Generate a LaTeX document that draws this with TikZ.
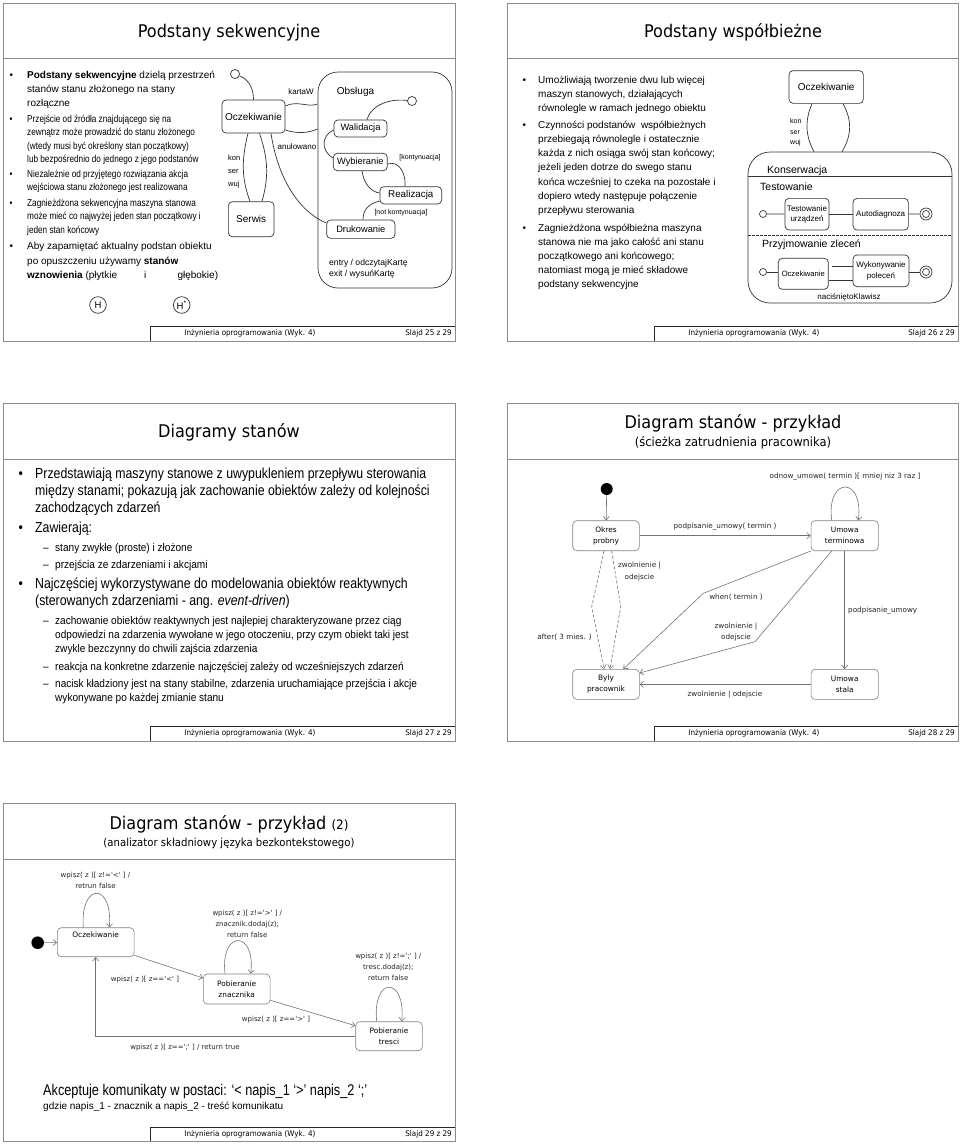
\documentclass[tikz,border=0pt]{standalone}
\usepackage{fontspec}
\setmainfont{Liberation Sans}
\newfontfamily\tahoma[FakeStretch=0.92]{DejaVu Sans}
\newfontfamily\verd{DejaVu Sans}
\newfontfamily\narrowf[FakeStretch=0.82]{Liberation Sans}
\newfontfamily\narrowm[FakeStretch=0.85]{Liberation Sans}
\newfontfamily\narrows[FakeStretch=0.9]{Liberation Sans}
\usetikzlibrary{arrows.meta}
\newcounter{tl}
\newcommand\myfs[2]{\fontsize{#1}{#2}\selectfont}
\newcommand\TL[3]{\stepcounter{tl}\node[txt] (t\arabic{tl}) at (#1,#2) {#3};}
\begin{document}
\begin{tikzpicture}[x=1pt,y=-1pt,
  frame/.style={draw=black!45,line width=0.9pt},
  footline/.style={draw=black!85,line width=0.7pt},
  foottext/.style={inner sep=0,font=\tahoma\myfs{7.8}{9}},
  ttl/.style={inner sep=0,anchor=base,font=\tahoma\myfs{17.5}{20}},
  subttl/.style={inner sep=0,anchor=base,font=\tahoma\myfs{12.5}{14}},
  txt/.style={inner sep=0,anchor=base west},
  sbox/.style={draw=black!80,rounded corners=4pt,line width=0.7pt,inner sep=0pt,align=center},
  conn/.style={draw=black!80,line width=0.7pt},
  lab/.style={inner sep=0},
  pstate/.style={circle,draw=black!80,line width=0.7pt,inner sep=0pt},
  gbox/.style={draw=black!50,fill=white,rounded corners=4pt,line width=0.6pt,inner sep=0pt,align=center,font=\verd\myfs{7.4}{11}},
  garr/.style={draw=black!55,line width=0.6pt,-{Straight Barb[length=3.5pt,width=6pt]}},
  glab/.style={inner sep=0,align=center,text=black!85,font=\verd\myfs{7.2}{11.3}},
  glab5/.style={inner sep=0,align=center,text=black!85,font=\verd\myfs{7}{11}},
]
\useasboundingbox (0,0) rectangle (960,1144);
\fill[white] (0,0) rectangle (960,1144);

% ================= frames, titles, footers =================
\draw[frame] (3,3) rectangle (455,341);
\draw[frame] (3,58) -- (455,58);
\draw[footline] (150,341) -- (150,326) -- (455,326);
\node[foottext] (f1a) at (250,333.8) {Inżynieria oprogramowania (Wyk. 4)};
\node[foottext,anchor=east] (f1b) at (452,333.8) {Slajd 25 z 29};
\node[ttl] (ti1) at (229,37) {Podstany sekwencyjne};

\draw[frame] (507,3) rectangle (958,341);
\draw[frame] (507,58) -- (958,58);
\draw[footline] (654,341) -- (654,326) -- (958,326);
\node[foottext] (f2a) at (754,333.8) {Inżynieria oprogramowania (Wyk. 4)};
\node[foottext,anchor=east] (f2b) at (955,333.8) {Slajd 26 z 29};
\node[ttl] (ti2) at (733,37) {Podstany współbieżne};

\draw[frame] (3,403) rectangle (455,741);
\draw[frame] (3,459) -- (455,459);
\draw[footline] (150,741) -- (150,726) -- (455,726);
\node[foottext] (f3a) at (250,733.8) {Inżynieria oprogramowania (Wyk. 4)};
\node[foottext,anchor=east] (f3b) at (452,733.8) {Slajd 27 z 29};
\node[ttl] (ti3) at (229,437) {Diagramy stanów};

\draw[frame] (507,403) rectangle (958,741);
\draw[frame] (507,459) -- (958,459);
\draw[footline] (654,741) -- (654,726) -- (958,726);
\node[foottext] (f4a) at (754,733.8) {Inżynieria oprogramowania (Wyk. 4)};
\node[foottext,anchor=east] (f4b) at (955,733.8) {Slajd 28 z 29};
\node[ttl] (ti4) at (733,428) {Diagram stanów - przykład};
\node[subttl] (st4) at (733,446) {(ścieżka zatrudnienia pracownika)};

\draw[frame] (3,803) rectangle (455,1141);
\draw[frame] (3,859) -- (455,859);
\draw[footline] (150,1141) -- (150,1127) -- (455,1127);
\node[foottext] (f5a) at (250,1134.3) {Inżynieria oprogramowania (Wyk. 4)};
\node[foottext,anchor=east] (f5b) at (452,1134.3) {Slajd 29 z 29};
\node[ttl] (ti5) at (229,829) {Diagram stanów - przykład {\myfs{13}{15}(2)}};
\node[subttl,font=\tahoma\myfs{11}{13}] (st5) at (229,846) {(analizator składniowy języka bezkontekstowego)};

% ================= slide 1 text =================
\begin{scope}[font=\myfs{10}{12}]
\TL{9.5}{78.5}{•}
\TL{27}{78.5}{\textbf{Podstany sekwencyjne} dzielą przestrzeń}
\TL{27}{92.5}{stanów stanu złożonego na stany}
\TL{27}{106.5}{rozłączne}
\TL{9.5}{249.5}{•}
\TL{27}{249.5}{Aby zapamiętać aktualny podstan obiektu}
\TL{27}{264}{po opuszczeniu używamy \textbf{stanów}}
\TL{27}{278.5}{\textbf{wznowienia} (płytkie}
\TL{144}{278.5}{i}
\node[inner sep=0,anchor=base east] (glb) at (218.3,278.5) {głębokie)};
\end{scope}
\begin{scope}[font=\narrowf\myfs{10}{12}]
\TL{9.5}{122.5}{•}
\TL{27}{122.5}{Przejście od źródła znajdującego się na}
\TL{27}{135.8}{zewnątrz może prowadzić do stanu złożonego}
\TL{27}{149.3}{(wtedy musi być określony stan początkowy)}
\TL{27}{162.5}{lub bezpośrednio do jednego z jego podstanów}
\TL{9.5}{177.5}{•}
\TL{27}{177.5}{Niezależnie od przyjętego rozwiązania akcja}
\TL{27}{190.8}{wejściowa stanu złożonego jest realizowana}
\TL{9.5}{206.5}{•}
\TL{27}{206.5}{Zagnieżdżona sekwencyjna maszyna stanowa}
\TL{27}{219.8}{może mieć co najwyżej jeden stan początkowy i}
\TL{27}{233.3}{jeden stan końcowy}
\end{scope}
\node[pstate,minimum size=16.6pt,font=\myfs{9.5}{10}] (hs) at (98,305) {H};
\node[pstate,minimum size=16.6pt,font=\myfs{9.5}{10}] (hd) at (181.7,305) {H\textsuperscript{*}};

% ================= slide 1 diagram =================
\node[sbox,minimum width=63pt,minimum height=33pt,font=\myfs{10}{12}] (ocz1) at (253.5,116.5) {Oczekiwanie};
\node[sbox,minimum width=45.7pt,minimum height=35pt,font=\myfs{10}{12}] (serw) at (251.2,219.2) {Serwis};
\node[sbox,rounded corners=20pt,minimum width=134pt,minimum height=216pt] (obs) at (385,180) {};
\node[sbox,minimum width=53pt,minimum height=17pt,font=\myfs{9.3}{11}] (wal) at (360.5,128.5) {Walidacja};
\node[sbox,minimum width=54pt,minimum height=17.4pt,font=\myfs{9.3}{11}] (wyb) at (360.3,162) {Wybieranie};
\node[sbox,minimum width=61.7pt,minimum height=17.3pt,font=\myfs{9.8}{11}] (real) at (410.8,195.3) {Realizacja};
\node[sbox,minimum width=68.3pt,minimum height=18.3pt,font=\myfs{9.3}{11}] (druk) at (360.8,229.2) {Drukowanie};
\node[pstate,minimum size=9pt] (init1) at (235,74) {};
\node[pstate,minimum size=9pt] (init2) at (412,101) {};

\node[lab,font=\myfs{8}{9}] (lk) at (301,92) {kartaW};
\node[lab,font=\myfs{8}{9}] (la) at (297,147) {anulowano};
\node[lab,font=\myfs{10}{12}] (lobs) at (355.5,92) {Obsługa};
\node[lab,font=\myfs{7}{8}] (lkon) at (420,158) {[kontynuacja]};
\node[lab,font=\myfs{7}{8}] (lnk) at (401,213) {[not kontynuacja]};
\node[txt,font=\myfs{8.6}{10}] (len) at (329,265) {entry / odczytajKartę};
\node[txt,font=\myfs{8.6}{10}] (lex) at (329,276.5) {exit / wysuńKartę};
\node[txt,font=\myfs{7.5}{9}] (k1) at (228,160) {kon};
\node[txt,font=\myfs{7.5}{9}] (k2) at (228,173) {ser};
\node[txt,font=\myfs{7.5}{9}] (k3) at (228,186.5) {wuj};

\draw[conn] (init1) .. controls (250,80) and (253.5,90) .. (ocz1.north);
\draw[conn] ([yshift=10.5pt]ocz1.east) .. controls (298,100) and (308,108) .. ([yshift=76pt]obs.west);
\draw[conn] ([yshift=-13.5pt]ocz1.east) .. controls (298,134) and (308,133) .. ([yshift=51pt]obs.west);
\draw[conn] (init2) .. controls (385,98) and (370,108) .. ([xshift=6.5pt]wal.north);
\draw[conn] ([yshift=-1.5pt]wal.west) .. controls (322,135) and (320,150) .. ([yshift=4pt]wyb.west);
\draw[conn] ([yshift=-2pt]wyb.east) .. controls (400,160) and (406,175) .. ([xshift=-5.8pt]real.north);
\draw[conn] ([xshift=1.7pt]wyb.south) .. controls (364,185) and (372,192) .. ([yshift=2.3pt]real.west);
\draw[conn] ([yshift=-5.7pt]real.west) .. controls (368,204) and (363,210) .. ([xshift=2.2pt]druk.north);
\draw[conn] ([xshift=17.5pt]ocz1.south) .. controls (278,180) and (300,212) .. ([yshift=6.2pt]druk.west);
\draw[conn] ([xshift=-5.5pt]ocz1.south) .. controls (241.4,160) and (241.4,178) .. ([xshift=-1.2pt]serw.north);
\draw[conn] ([xshift=6pt]ocz1.south) .. controls (268.6,160) and (268.6,178) .. ([xshift=10.8pt]serw.north);

% ================= slide 2 text =================
\begin{scope}[font=\myfs{10}{12}]
\TL{522.5}{83.5}{•}
\TL{538}{83.5}{Umożliwiają tworzenie dwu lub więcej}
\TL{538}{97.5}{maszyn stanowych, działających}
\TL{538}{111.5}{równolegle w ramach jednego obiektu}
\TL{522.5}{128.5}{•}
\TL{538}{128.5}{Czynności podstanów\ \ współbieżnych}
\TL{538}{142.5}{przebiegają równolegle i ostatecznie}
\TL{538}{156.5}{każda z nich osiąga swój stan końcowy;}
\TL{538}{170.5}{jeżeli jeden dotrze do swego stanu}
\TL{538}{185}{końca wcześniej to czeka na pozostałe i}
\TL{538}{199}{dopiero wtedy następuje połączenie}
\TL{538}{213}{przepływu sterowania}
\TL{522.5}{231.5}{•}
\TL{538}{231.5}{Zagnieżdżona współbieżna maszyna}
\TL{538}{245.5}{stanowa nie ma jako całość ani stanu}
\TL{538}{259.5}{początkowego ani końcowego;}
\TL{538}{273.5}{natomiast mogą je mieć składowe}
\TL{538}{287.5}{podstany sekwencyjne}
\end{scope}

% ================= slide 2 diagram =================
\node[sbox,minimum width=74.3pt,minimum height=32.7pt,font=\myfs{10}{12}] (ocz2) at (826.2,87) {Oczekiwanie};
\node[sbox,rounded corners=22pt,minimum width=204pt,minimum height=151pt] (kons) at (850,227.5) {};
\draw[conn] (748,176) -- (952,176);
\draw[conn,dashed,dash pattern=on 2.5pt off 1.5pt] (748,235) -- (952,235);
\node[txt,font=\myfs{7}{8}] (kk1) at (790,123.5) {kon};
\node[txt,font=\myfs{7}{8}] (kk2) at (790,134) {ser};
\node[txt,font=\myfs{7}{8}] (kk3) at (790,144.5) {wuj};
\draw[conn] ([xshift=-14.2pt]ocz2.south) .. controls (805,120) and (805,135) .. ([xshift=-36pt]kons.north);
\draw[conn] ([xshift=16.8pt]ocz2.south) .. controls (852,120) and (852,135) .. ([xshift=-8pt]kons.north);
\node[txt,font=\myfs{10.5}{12}] (lkons) at (767,173.2) {Konserwacja};
\node[txt,font=\myfs{10.5}{12}] (ltest) at (760,190.8) {Testowanie};
\node[txt,font=\myfs{10.5}{12}] (lprz) at (762,247.8) {Przyjmowanie zleceń};
\node[pstate,minimum size=7pt] (init3) at (763,214) {};
\node[sbox,minimum width=44pt,minimum height=31.7pt,font=\myfs{8}{10}] (tu) at (807,214.2) {Testowanie\\urządzeń};
\node[sbox,minimum width=55.3pt,minimum height=31.7pt,font=\myfs{8}{10}] (auto) at (880.7,214.2) {Autodiagnoza};
\node[pstate,minimum size=12pt] (fin1) at (926,214) {};
\draw[conn] (fin1) circle (3.5);
\draw[conn] (init3) -- (tu);
\draw[conn] (tu) -- (auto);
\draw[conn] (auto) -- (fin1);
\node[pstate,minimum size=7pt] (init4) at (763,272) {};
\node[sbox,minimum width=50pt,minimum height=31pt,font=\myfs{7.6}{10}] (ocz3) at (803.3,273.8) {Oczekiwanie};
\node[sbox,minimum width=56pt,minimum height=31.7pt,font=\myfs{8}{10.5}] (wyk) at (881,270.8) {Wykonywanie\\poleceń};
\node[pstate,minimum size=12pt] (fin2) at (926,272) {};
\draw[conn] (fin2) circle (3.5);
\draw[conn] (init4) -- (init4 -| ocz3.west);
\draw[conn] (fin2) -- (fin2 -| wyk.east);
\path ([xshift=3pt,yshift=7.8pt]ocz3.east) coordinate (u1);
\path ([yshift=-6.2pt]ocz3.east) coordinate (u2);
\draw[conn] (u1) -- (u1 -| wyk.west);
\draw[conn] (u2) -- (u2 -| wyk.west);
\node[lab,font=\myfs{8}{9}] (lnac) at (849,297) {naciśniętoKlawisz};

% ================= slide 3 text =================
\begin{scope}[font=\narrowm\myfs{14.5}{17}]
\TL{18.5}{478.5}{•}
\TL{35}{478.5}{Przedstawiają maszyny stanowe z uwypukleniem przepływu sterowania}
\TL{35}{495.5}{między stanami; pokazują jak zachowanie obiektów zależy od kolejności}
\TL{35}{512.5}{zachodzących zdarzeń}
\TL{18.5}{532.5}{•}
\TL{35}{532.5}{Zawierają:}
\TL{18.5}{588.5}{•}
\TL{35}{588.5}{Najczęściej wykorzystywane do modelowania obiektów reaktywnych}
\TL{35}{605.5}{(sterowanych zdarzeniami - ang. \textit{event-driven})}
\end{scope}
\begin{scope}[font=\narrows\myfs{11.2}{13}]
\TL{43}{551}{–}
\TL{55}{551}{stany zwykłe (proste) i złożone}
\TL{43}{568}{–}
\TL{55}{568}{przejścia ze zdarzeniami i akcjami}
\TL{43}{624}{–}
\TL{55}{624}{zachowanie obiektów reaktywnych jest najlepiej charakteryzowane przez ciąg}
\TL{55}{638}{odpowiedzi na zdarzenia wywołane w jego otoczeniu, przy czym obiekt taki jest}
\TL{55}{652}{zwykle bezczynny do chwili zajścia zdarzenia}
\TL{43}{670}{–}
\TL{55}{670}{reakcja na konkretne zdarzenie najczęściej zależy od wcześniejszych zdarzeń}
\TL{43}{687}{–}
\TL{55}{687}{nacisk kładziony jest na stany stabilne, zdarzenia uruchamiające przejścia i akcje}
\TL{55}{701}{wykonywane po każdej zmianie stanu}
\end{scope}

% ================= slide 4 diagram =================
\node[circle,fill=black,minimum size=12pt,inner sep=0] (i4) at (606.7,489) {};
\node[gbox,minimum width=66.6pt,minimum height=30pt] (okres) at (606,535.7) {Okres\\probny};
\node[gbox,minimum width=67.3pt,minimum height=30pt] (umt) at (844.7,535.7) {Umowa\\terminowa};
\node[gbox,minimum width=66.6pt,minimum height=30pt] (byly) at (606,684.3) {Byly\\pracownik};
\node[gbox,minimum width=67.3pt,minimum height=30pt] (ums) at (844.7,684.3) {Umowa\\stala};
\draw[garr] (i4) -- (okres);
\draw[garr] (okres) -- (umt);
\draw[garr] ([xshift=-13pt]umt.north) .. controls (826,476) and (864,476) .. ([xshift=13.6pt]umt.north);
\draw[garr] (umt) -- (ums);
\draw[garr] (ums) -- (byly);
\draw[garr,dashed,dash pattern=on 3pt off 2pt] ([xshift=-2pt]okres.south) -- (591.7,606.7) -- ([xshift=-2pt]byly.north);
\draw[garr,dashed,dash pattern=on 3pt off 2pt] ([xshift=5.7pt]okres.south) -- (620.7,606.7) -- ([xshift=4pt]byly.north);
\draw[garr] ([xshift=-34pt]umt.south) -- (703.3,593.3) -- ([xshift=17.3pt]byly.north);
\draw[garr] ([xshift=-13pt]umt.south) -- (755,641.7) -- ([yshift=-4pt]byly.north east);
\node[glab] (l41) at (725,527) {podpisanie\_umowy( termin )};
\node[glab] (l42) at (845,477) {odnow\_umowe( termin )[ mniej niz 3 raz ]};
\node[glab,anchor=west] (l43) at (848,611) {podpisanie\_umowy};
\node[glab] (l44) at (725,695) {zwolnienie | odejscie};
\node[glab] (l45) at (564.5,637.3) {after( 3 mies. )};
\node[glab] (l46) at (639.5,571.5) {zwolnienie |\\odejscie};
\node[glab] (l47) at (736,597.3) {when( termin )};
\node[glab] (l48) at (736,631.7) {zwolnienie |\\odejscie};

% ================= slide 5 diagram =================
\node[circle,fill=black,minimum size=12.6pt,inner sep=0] (i5) at (37.7,942.7) {};
\node[gbox,minimum width=76.7pt,minimum height=29pt] (ocz5) at (95.7,942.2) {};
\node[inner sep=0,font=\verd\myfs{7.4}{11}] (ocz5t) at (95.7,935) {Oczekiwanie};
\node[gbox,minimum width=66.7pt,minimum height=30pt] (pz) at (236.7,989) {Pobieranie\\znacznika};
\node[gbox,minimum width=66.6pt,minimum height=29pt] (tr) at (389,1036.2) {Pobieranie\\tresci};
\draw[garr] (i5) -- (ocz5);
\draw[garr] ([xshift=-12.4pt]ocz5.north) .. controls (80,882) and (113,882) .. ([xshift=13.6pt]ocz5.north);
\draw[garr] ([xshift=-11.7pt]pz.north) .. controls (220,929.6) and (256,929.6) .. ([xshift=14pt]pz.north);
\draw[garr] ([xshift=-12.3pt]tr.north) .. controls (372,976) and (406,976) .. ([xshift=12.7pt]tr.north);
\draw[garr] ([yshift=1.7pt]ocz5.south east) -- ([yshift=-4.3pt]pz.north west);
\draw[garr] ([yshift=4pt]pz.south east) -- ([yshift=-4.3pt]tr.north west);
\draw[garr] (tr.west) -| (ocz5.south);
\node[glab5] (l51) at (95.5,880.5) {wpisz( z )[ z!='<' ] /\\retrun false};
\node[glab5] (l52) at (145,980) {wpisz( z )[ z=='<' ]};
\node[glab5] (l53) at (247.3,923.5) {wpisz( z )[ z!='>' ] /\\znacznik.dodaj(z);\\return false};
\node[glab5] (l54) at (276,1020) {wpisz( z )[ z=='>' ]};
\node[glab5] (l55) at (388.3,967) {wpisz( z )[ z!=';' ] /\\tresc.dodaj(z);\\return false};
\node[glab5] (l56) at (185,1047.3) {wpisz( z )[ z==';' ] / return true};
\node[txt,font=\narrowf\myfs{15.5}{18}] (acc) at (43,1095) {Akceptuje komunikaty w postaci: ‘<~napis\_1~‘>’ napis\_2~‘;’};
\node[txt,font=\myfs{10}{12}] (gdz) at (43,1109) {gdzie napis\_1 - znacznik a napis\_2 - treść komunikatu};
\end{tikzpicture}
\end{document}
